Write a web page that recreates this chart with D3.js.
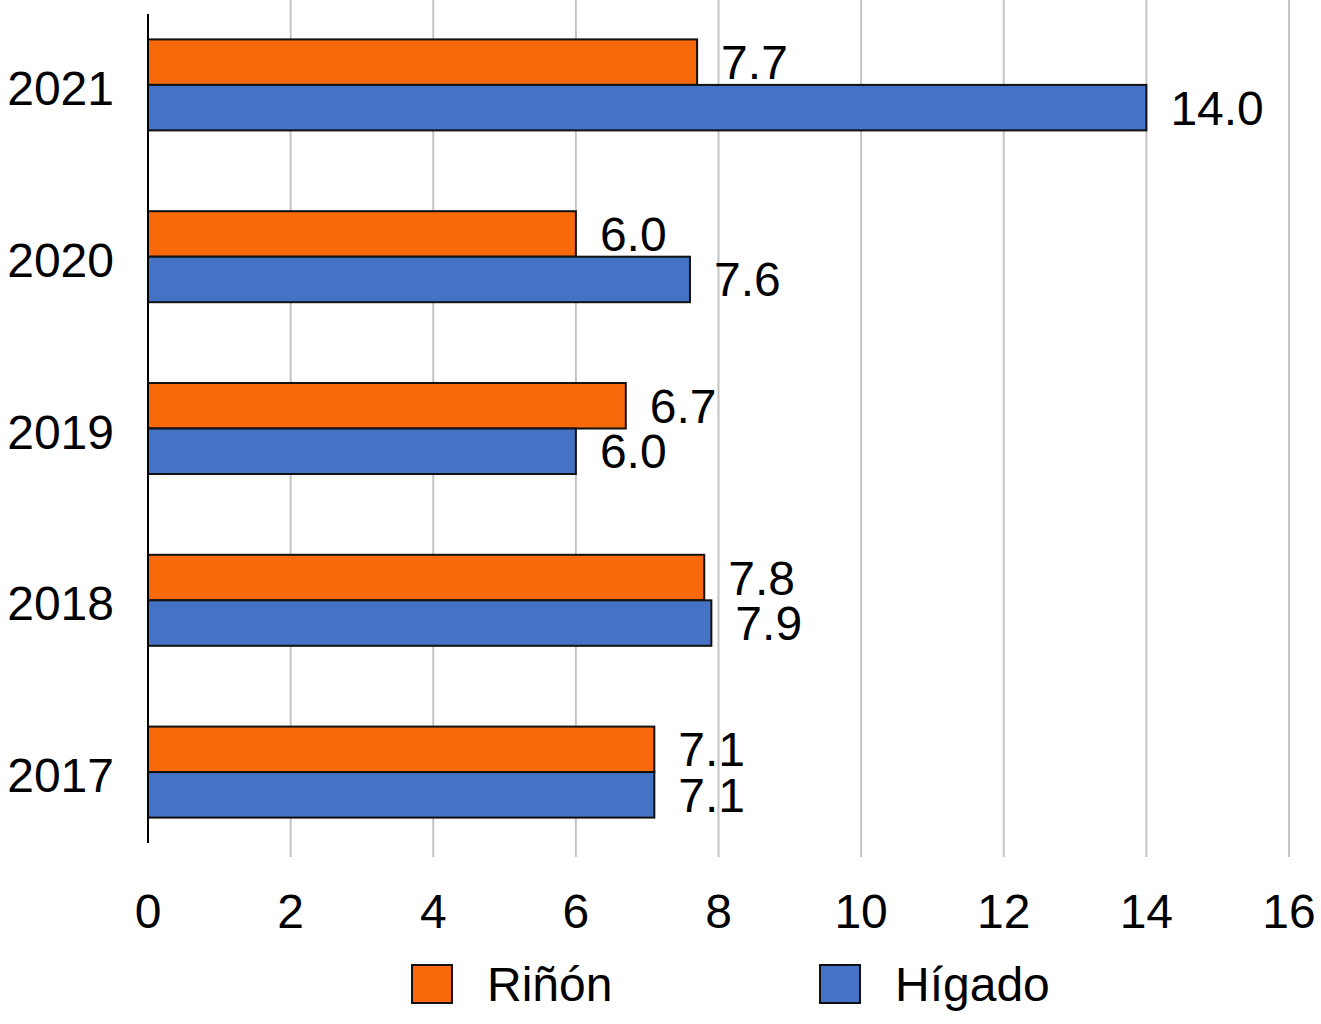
<!DOCTYPE html>
<html>
<head>
<meta charset="utf-8">
<script src="https://cdn.jsdelivr.net/npm/d3@7"></script>
<style>
  body { margin: 0; background: #fff; }
  text { font-family: "Liberation Sans", Arial, sans-serif; fill: #000; }
</style>
</head>
<body>
<div id="chart"></div>
<script>
const years = ["2021", "2020", "2019", "2018", "2017"];
const rinon = [7.7, 6.0, 6.7, 7.8, 7.1];
const higado = [14.0, 7.6, 6.0, 7.9, 7.1];
const xTicks = [0, 2, 4, 6, 8, 10, 12, 14, 16];
const seriesNames = ["Riñón", "Hígado"];
const seriesColors = ["#f8690c", "#4472c4"];

const width = 1321, height = 1024;

const x = d3.scaleLinear()
    .domain([0, 16])
    .range([148, 1289]);

const y = d3.scaleBand()
    .domain(years)
    .range([-1, 858])
    .padding(0);

const barH = 45.5;

const svg = d3.select("#chart")
    .append("svg")
    .attr("width", width)
    .attr("height", height);

// gridlines
svg.append("g").selectAll("line")
    .data(xTicks.filter(d => d > 0))
    .enter().append("line")
    .attr("x1", d => x(d)).attr("x2", d => x(d))
    .attr("y1", 0).attr("y2", 857)
    .attr("stroke", "#c4c4c4")
    .attr("stroke-width", 2);

// x tick labels
svg.append("g").selectAll("text")
    .data(xTicks)
    .enter().append("text")
    .attr("x", d => x(d))
    .attr("y", 928)
    .attr("text-anchor", "middle")
    .attr("font-size", 48)
    .text(d => d);

// bars
const rows = years.map((yr, i) => ({ year: yr, vals: [rinon[i], higado[i]] }));

const groups = svg.append("g").selectAll("g")
    .data(rows)
    .enter().append("g")
    .attr("transform", d => "translate(0," + (y(d.year) + y.bandwidth() / 2) + ")");

groups.selectAll("rect")
    .data(d => d.vals.map((v, k) => ({ v: v, k: k })))
    .enter().append("rect")
    .attr("x", x(0))
    .attr("y", d => d.k === 0 ? -barH : 0)
    .attr("width", d => x(d.v) - x(0))
    .attr("height", barH)
    .attr("fill", d => seriesColors[d.k])
    .attr("stroke", "#111")
    .attr("stroke-width", 2);

groups.selectAll("text.val")
    .data(d => d.vals.map((v, k) => ({ v: v, k: k })))
    .enter().append("text")
    .attr("class", "val")
    .attr("x", d => x(d.v) + 24)
    .attr("y", d => (d.k === 0 ? -barH / 2 : barH / 2) + 17)
    .attr("font-size", 48)
    .text(d => d.v.toFixed(1));

// y category labels
svg.append("g").selectAll("text")
    .data(years)
    .enter().append("text")
    .attr("x", 114)
    .attr("y", d => y(d) + y.bandwidth() / 2 + 20)
    .attr("text-anchor", "end")
    .attr("font-size", 48)
    .text(d => d);

// vertical axis line
svg.append("line")
    .attr("x1", x(0)).attr("x2", x(0))
    .attr("y1", 14).attr("y2", 843)
    .attr("stroke", "#000")
    .attr("stroke-width", 2);

// legend
const legendX = [412, 820];
const legend = svg.append("g").selectAll("g")
    .data(seriesNames)
    .enter().append("g")
    .attr("transform", (d, i) => "translate(" + legendX[i] + ",965)");

legend.append("rect")
    .attr("width", 40).attr("height", 38)
    .attr("fill", (d, i) => seriesColors[i])
    .attr("stroke", "#111")
    .attr("stroke-width", 2);

legend.append("text")
    .attr("x", 75)
    .attr("y", 36)
    .attr("font-size", 48)
    .text(d => d);
</script>
</body>
</html>
